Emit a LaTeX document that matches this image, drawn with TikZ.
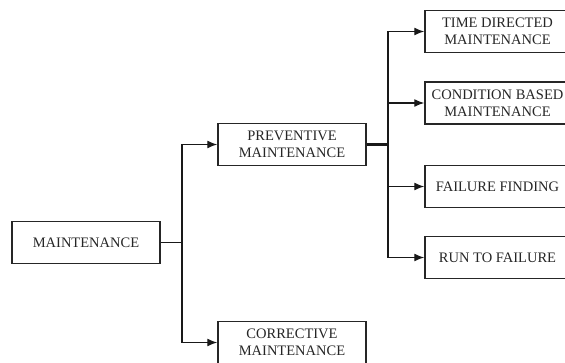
\documentclass[tikz,border=0pt]{standalone}
\usepackage{fontspec}
\setmainfont{Liberation Serif}
\usetikzlibrary{arrows.meta}
\begin{document}
\begin{tikzpicture}[x=1pt,y=-1pt,
  boxnode/.style={draw=black!85, line width=1.5pt, minimum height=42pt, inner sep=0pt,
    align=center, font=\fontsize{14.5}{17}\selectfont, text=black!85},
  leftbox/.style={boxnode, minimum width=148pt},
  rightbox/.style={boxnode, minimum width=145pt},
  conn/.style={draw=black!90, line width=1.3pt},
  arr/.style={conn, -{Latex[length=10pt,width=8pt]}}]
\useasboundingbox (0,0) rectangle (565,362);
\clip (0,0) rectangle (565,362);
\fill[white] (0,0) rectangle (565,362);
\node[leftbox] (maint) at (86,242.5) {MAINTENANCE};
\node[leftbox] (prev) at (292,144.5) {PREVENTIVE\\MAINTENANCE};
\node[leftbox] (corr) at (292,342.5) {CORRECTIVE\\MAINTENANCE};
\node[rightbox] (time) at (497.5,31.5) {TIME DIRECTED\\MAINTENANCE};
\node[rightbox] (cond) at (497.5,103) {CONDITION BASED\\MAINTENANCE};
\node[rightbox] (fail) at (497.5,186.5) {FAILURE FINDING};
\node[rightbox] (run) at (497.5,257.5) {RUN TO FAILURE};
\coordinate (j1) at (182,242.5);
\coordinate (j2) at (388,144.5);
\draw[conn] (maint.east) -- (j1);
\draw[arr] (j1) |- (prev.west);
\draw[arr] (j1) |- (corr.west);
\draw[conn, line width=2.6pt] (prev.east) -- (j2);
\draw[arr] (j2) |- (time.west);
\draw[arr] (j2) |- (cond.west);
\draw[arr] (j2) |- (fail.west);
\draw[arr] (j2) |- (run.west);
\end{tikzpicture}
\end{document}
